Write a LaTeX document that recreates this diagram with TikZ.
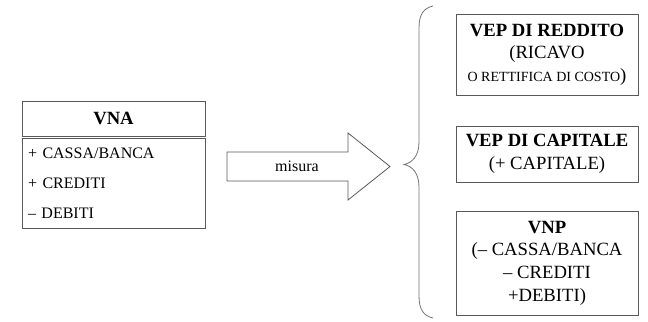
\documentclass[tikz,border=0pt]{standalone}
\usepackage{fontspec}
\setmainfont{Liberation Serif}

% small capitals faked with reduced upper case
\newcommand{\smcap}[1]{{\fontsize{10.5}{17}\selectfont #1}}

\begin{document}
\begin{tikzpicture}[x=0.75pt, y=-0.75pt, line width=0.6pt,
    box/.style={draw=black!65, inner sep=0pt, align=center, font=\fontsize{14}{17}\selectfont},
    vna/.style={box, minimum width=137.25pt},
    vep/.style={box, minimum width=136.5pt}]

    \useasboundingbox (0,0) rectangle (648,321);

    % left table
    \node[vna, minimum height=26.25pt] (vna) at (113.5,118.5) {\textbf{VNA}};
    \node[vna, minimum height=67.5pt, align=left, text width=128pt,
          font=\fontsize{12}{22.5}\selectfont] (voci) at (113.5,183)
          {+ CASSA/BANCA\\+ CREDITI\\– DEBITI};

    % block arrow
    \draw[draw=black!65, fill=white]
        (227,152) -- (348,152) -- (348,133) -- (390,166.5)
        -- (348,200) -- (348,181) -- (227,181) -- cycle;
    \node[font=\fontsize{12}{14}\selectfont] (misura) at (297,166) {misura};

    % brace
    \draw[black!55]
        (433,6) .. controls (424,8) and (419,14) .. (419,28) -- (419,142)
        .. controls (419,156) and (412,163) .. (404,164.5)
        .. controls (412,166) and (419,173) .. (419,187) -- (419,296)
        .. controls (419,310) and (424,316) .. (433,318);

    % right boxes
    \node[vep, minimum height=60.75pt] (reddito) at (547,54.5)
        {\textbf{VEP DI REDDITO}\\(RICAVO\\\smcap{O RETTIFICA DI COSTO})};
    \node[vep, minimum height=42pt] (capitale) at (547,154)
        {\textbf{VEP DI CAPITALE}\\(+ CAPITALE)};
    \node[vep, minimum height=78pt] (vnp) at (547,263)
        {\textbf{VNP}\\(– CASSA/BANCA\\– CREDITI\\+DEBITI)};

\end{tikzpicture}
\end{document}
